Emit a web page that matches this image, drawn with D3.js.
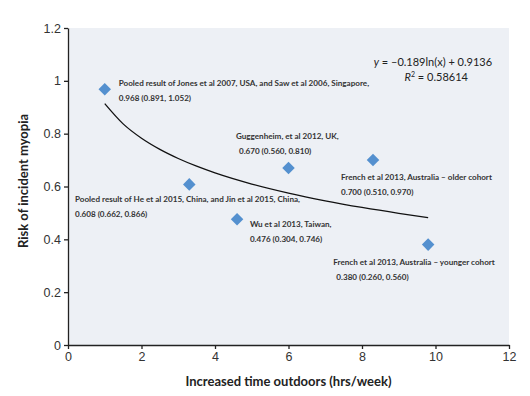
<!DOCTYPE html>
<html>
<head>
<meta charset="utf-8">
<script src="https://cdn.jsdelivr.net/npm/d3@7"></script>
<style>
  body { margin: 0; background: #fff; }
  svg { font-family: Lato, "Open Sans", sans-serif; }
  .tick text { font-size: 12.5px; fill: #333; }
  .axisTitle { font-size: 13px; font-weight: bold; fill: #222; }
  .note { font-size: 8.1px; font-weight: bold; fill: #333; }
</style>
</head>
<body>
<div id="chart"></div>
<script>
// study data: hours outdoors vs risk ratio
var hours = [1, 3.3, 4.6, 6, 8.3, 9.8];
var risk = [0.968, 0.608, 0.476, 0.670, 0.700, 0.380];
var studyNames = [
  "Pooled result of Jones et al 2007, USA, and Saw et al 2006, Singapore,",
  "Pooled result of He et al 2015, China, and Jin et al 2015, China,",
  "Wu et al 2013, Taiwan,",
  "Guggenheim, et al 2012, UK,",
  "French et al 2013, Australia \u2013 older cohort",
  "French  et al 2013, Australia \u2013 younger cohort"
];
var studyCI = [
  "0.968 (0.891, 1.052)",
  "0.608 (0.662, 0.866)",
  "0.476 (0.304, 0.746)",
  "0.670 (0.560, 0.810)",
  "0.700 (0.510, 0.970)",
  "0.380 (0.260, 0.560)"
];
// label offset in data units (dx hrs, dy risk) for first line of each label
var labelDx = [0.38, -3.11, 0.35, -1.43, -0.87, -2.58];
var labelDy = [0.011, -0.068, -0.03, 0.11, -0.076, -0.076];

// log trendline as printed on the chart
var trendSlope = -0.189;
var trendIntercept = 0.9136;
var trendX = [1, 1.5, 2, 2.5, 3, 3.5, 4, 5, 6, 7, 8, 9, 9.8];

var xTicks = [0, 2, 4, 6, 8, 10, 12];
var yTicks = [0, 0.2, 0.4, 0.6, 0.8, 1, 1.2];

var svgWidth = 530, svgHeight = 396;
var margin = { top: 28, right: 21, bottom: 51, left: 68 };
var width = svgWidth - margin.left - margin.right;
var height = svgHeight - margin.top - margin.bottom;

var svg = d3.select("#chart").append("svg")
    .attr("width", svgWidth)
    .attr("height", svgHeight);

var chartGroup = svg.append("g")
    .attr("transform", `translate(${margin.left}, ${margin.top})`);

var x = d3.scaleLinear().domain([0, 12]).range([0, width]);
var y = d3.scaleLinear().domain([0, 1.2]).range([height, 0]);

// plot background
chartGroup.append("rect")
    .attr("width", width)
    .attr("height", height)
    .attr("fill", "#edf0f5");

// axes
var xAxis = d3.axisBottom(x).tickValues(xTicks).tickSize(4).tickSizeOuter(0).tickPadding(3);
var yAxis = d3.axisLeft(y).tickValues(yTicks).tickSize(4).tickSizeOuter(0).tickPadding(3)
    .tickFormat(d3.format("~g"));

chartGroup.append("g")
    .attr("transform", `translate(0, ${height})`)
    .call(xAxis)
    .call(g => g.selectAll("line, path").attr("stroke", "#222").attr("stroke-width", 1.3));

chartGroup.append("g")
    .call(yAxis)
    .call(g => g.selectAll("line, path").attr("stroke", "#222").attr("stroke-width", 1.3));

// trendline
var line = d3.line()
    .x(d => x(d))
    .y(d => y(trendSlope * Math.log(d) + trendIntercept))
    .curve(d3.curveMonotoneX);

chartGroup.append("path")
    .datum(trendX)
    .attr("d", line)
    .attr("fill", "none")
    .attr("stroke", "#111")
    .attr("stroke-width", 1.3);

// diamonds
chartGroup.selectAll(".pt")
    .data(hours)
    .enter()
    .append("path")
    .attr("class", "pt")
    .attr("d", d3.symbol().type(d3.symbolDiamond2).size(100))
    .attr("transform", (d, i) => `translate(${x(d)}, ${y(risk[i])})`)
    .attr("fill", "#5490cf");

// labels
hours.forEach(function(h, i) {
    var lx = x(h + labelDx[i]);
    var ly = y(risk[i] + labelDy[i]);
    chartGroup.append("text")
        .attr("class", "note")
        .attr("x", lx)
        .attr("y", ly)
        .text(studyNames[i]);
    chartGroup.append("text")
        .attr("class", "note")
        .attr("x", lx + (i == 3 || i == 5 ? 3 : 0))
        .attr("y", ly + 15)
        .text(studyCI[i]);
});

// equation
var eq = chartGroup.append("text")
    .attr("x", x(11.54))
    .attr("y", y(1.056))
    .attr("text-anchor", "end")
    .attr("font-size", "11px")
    .attr("fill", "#222");
eq.append("tspan").attr("font-style", "italic").text("y");
eq.append("tspan").text(" = \u20130.189ln(x) + 0.9136");

var r2 = chartGroup.append("text")
    .attr("x", x(10.02))
    .attr("y", y(0.999))
    .attr("text-anchor", "middle")
    .attr("font-size", "11px")
    .attr("fill", "#222");
r2.append("tspan").attr("font-style", "italic").text("R");
r2.append("tspan").attr("font-size", "7px").attr("dy", -4).text("2");
r2.append("tspan").attr("dy", 4).text(" = 0.58614");

// axis titles
chartGroup.append("text")
    .attr("class", "axisTitle")
    .attr("transform", "rotate(-90)")
    .attr("x", -(181 - margin.top))
    .attr("y", -40)
    .attr("text-anchor", "middle")
    .text("Risk of incident myopia");

chartGroup.append("text")
    .attr("class", "axisTitle")
    .attr("x", width / 2)
    .attr("y", height + 41)
    .attr("text-anchor", "middle")
    .text("Increased time outdoors (hrs/week)");
</script>
</body>
</html>
